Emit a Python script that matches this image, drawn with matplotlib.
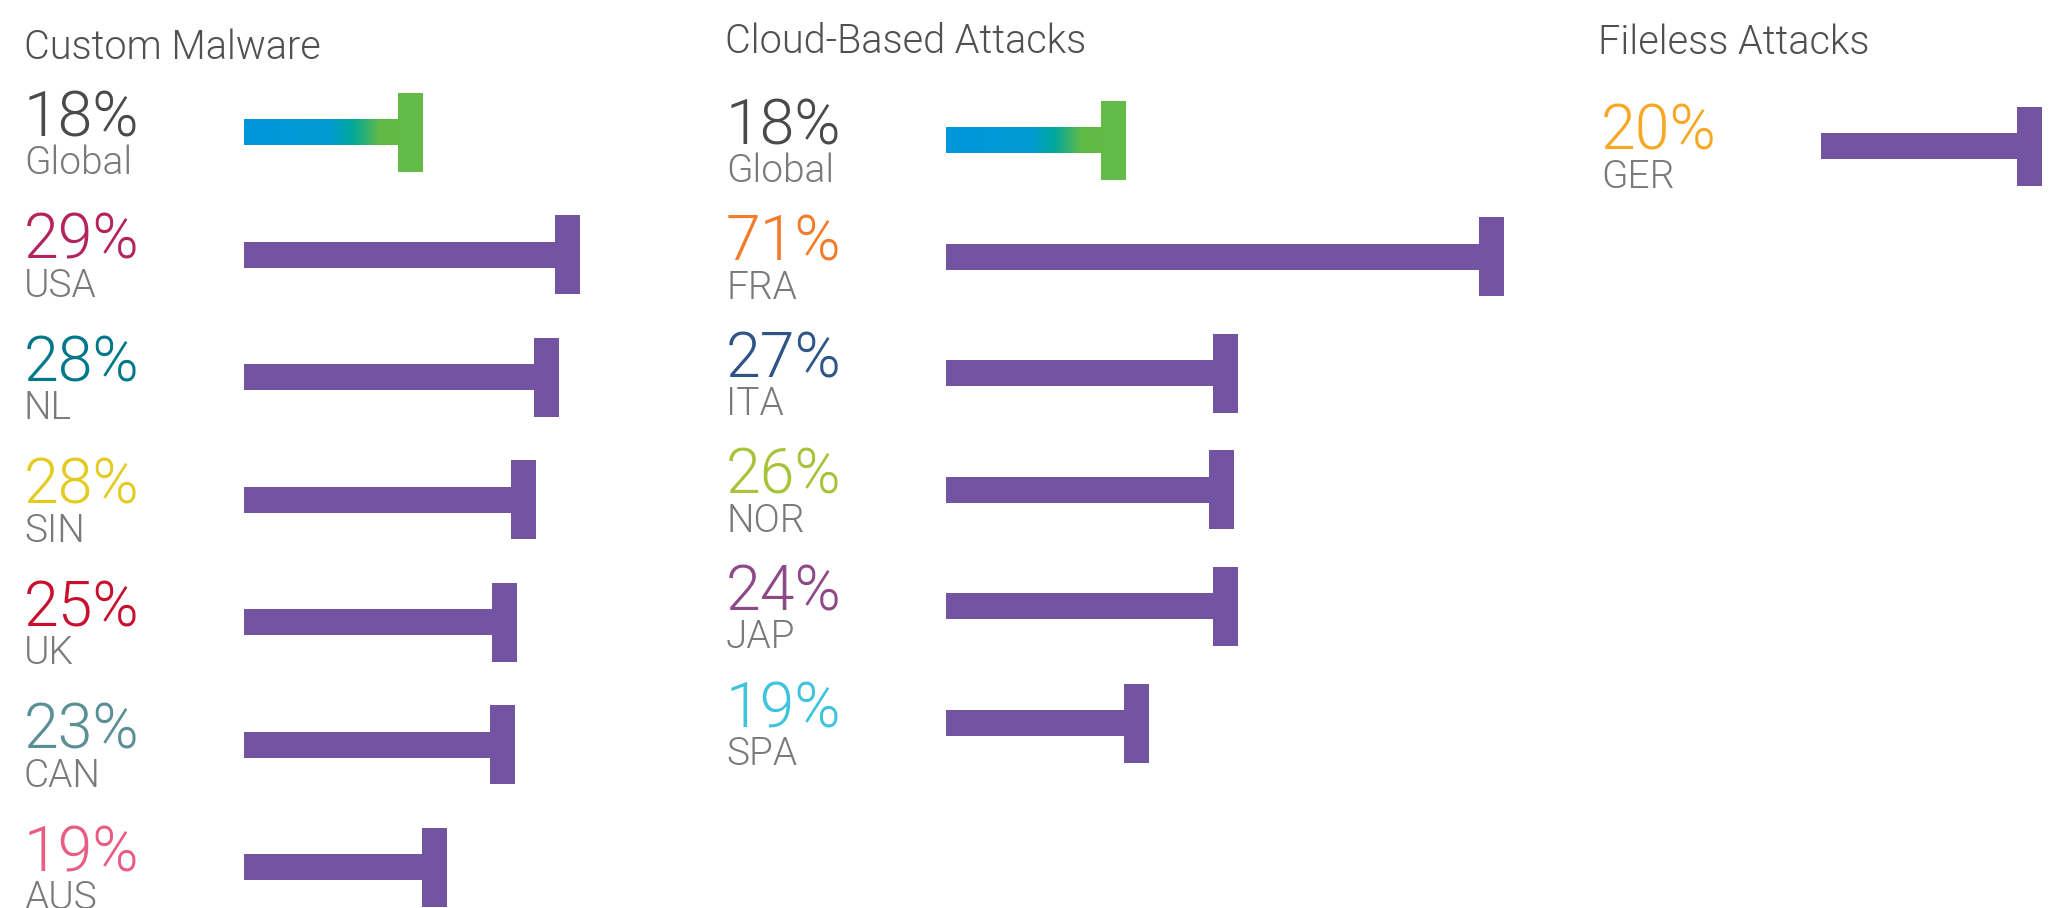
import numpy as np
import matplotlib.pyplot as plt
from matplotlib.colors import LinearSegmentedColormap

W, H = 2065, 908

# Custom Malware
malware_names = ['Global', 'USA', 'NL', 'SIN', 'UK', 'CAN', 'AUS']
malware_pct = [18, 29, 28, 28, 25, 23, 19]
# bar lengths as drawn in the infographic (not to scale with the %)
malware_drawn = [17.9, 33.6, 31.5, 29.2, 27.3, 27.1, 20.3]
malware_colors = ['#4a4a4a', '#b3245e', '#00788a', '#e3cb22', '#c8102e', '#5b8f96', '#e85d86']

# Cloud-Based Attacks
cloud_names = ['Global', 'FRA', 'ITA', 'NOR', 'JAP', 'SPA']
cloud_pct = [18, 71, 27, 26, 24, 19]
cloud_drawn = [18.0, 55.8, 29.2, 28.8, 29.2, 20.3]
cloud_colors = ['#4a4a4a', '#f47b2a', '#2f5486', '#a8c33a', '#8e4a88', '#40c4dd']

# Fileless Attacks
fileless_names = ['GER']
fileless_pct = [20]
fileless_drawn = [22.1]
fileless_colors = ['#f7a823']

PURPLE = '#7254a3'
GREEN = '#62bb46'
grad = LinearSegmentedColormap.from_list(
    'glob', [(0, '#0096db'), (0.55, '#009bd2'), (0.7, '#00a89c'), (0.88, '#62ba46'), (1, '#62ba46')])

FONT = ['Roboto', 'DejaVu Sans']
WEIGHT = 300

fig = plt.figure(figsize=(W / 100, H / 100), dpi=100)

# title, names, pct, drawn, colors, axes left/right px, bar start px, first row px, row step px, title pos
panels = [
    ('Custom Malware', malware_names, malware_pct, malware_drawn, malware_colors,
     0, 700, 244, 132, 122.5, (24, 59)),
    ('Cloud-Based Attacks', cloud_names, cloud_pct, cloud_drawn, cloud_colors,
     700, 1560, 946, 140, 116.6, (725, 53)),
    ('Fileless Attacks', fileless_names, fileless_pct, fileless_drawn, fileless_colors,
     1560, 2065, 1821, 146, 120.0, (1598, 54)),
]

for title, names, pct, drawn, colors, left, right, start, row0, step, tpos in panels:
    ax = fig.add_axes([left / W, 0, (right - left) / W, 1])
    bh = 26 / step      # bar thickness
    ch = 79 / step      # cap height
    cw = 2.5            # cap width
    for i, (nm, p, L, c) in enumerate(zip(names, pct, drawn, colors)):
        if nm == 'Global':
            g = np.linspace(0, 1, 256).reshape(1, -1)
            ax.imshow(g, cmap=grad, extent=(0, L - cw, i + bh / 2, i - bh / 2),
                      aspect='auto', interpolation='bicubic')
            cap_c = GREEN
        else:
            ax.barh(i, L - cw, left=0, height=bh, color=PURPLE, linewidth=0)
            cap_c = PURPLE
        ax.barh(i, cw, left=L - cw, height=ch, color=cap_c, linewidth=0)

        ax.annotate(f'{p}%', xy=(-22, i), xytext=(0, -4), textcoords='offset pixels',
                    ha='left', va='baseline', fontsize=45, color=c,
                    family=FONT, fontweight=WEIGHT)
        ax.annotate(nm, xy=(-22, i), xytext=(0, -42), textcoords='offset pixels',
                    ha='left', va='baseline', fontsize=28, color='#7a7a7a',
                    family=FONT, fontweight=WEIGHT)

    ax.set_xlim((left - start) / 10, (right - start) / 10)
    ax.set_ylim((H - row0) / step, -row0 / step)
    ax.axis('off')

    fig.text(tpos[0] / W, 1 - tpos[1] / H, title, ha='left', va='baseline',
             fontsize=28.5, color='#505050', family=FONT, fontweight=WEIGHT)

fig.savefig('out.png', dpi=100, facecolor='white')
